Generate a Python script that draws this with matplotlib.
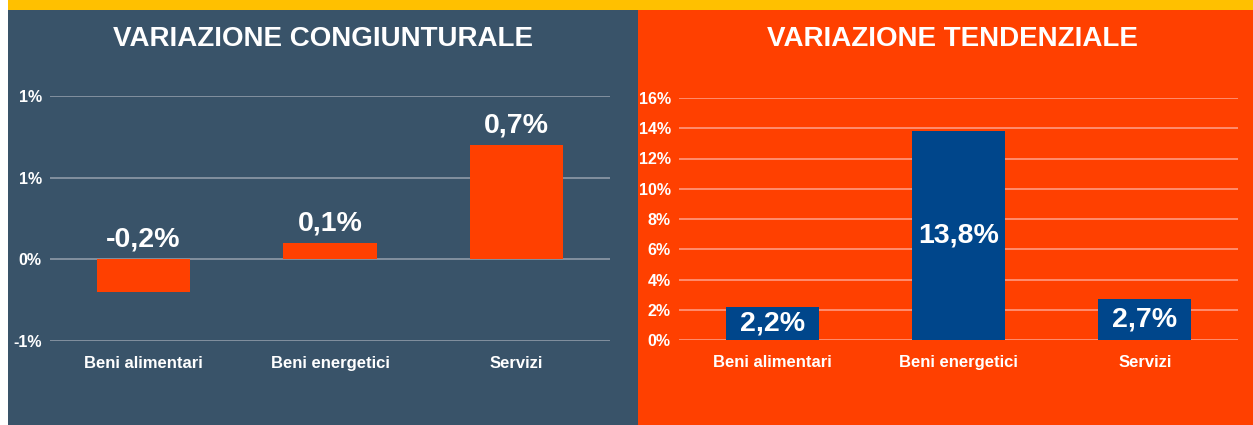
import matplotlib.pyplot as plt
from matplotlib.patches import Rectangle

plt.rcParams['font.family'] = ['Liberation Sans', 'DejaVu Sans']

categories = ['Beni alimentari', 'Beni energetici', 'Servizi']
cong_values = [-0.2, 0.1, 0.7]
cong_labels = ['-0,2%', '0,1%', '0,7%']
cong_ticks = [-0.5, 0.0, 0.5, 1.0]
cong_ticklabels = ['-1%', '0%', '1%', '1%']
tend_values = [2.2, 13.8, 2.7]
tend_labels = ['2,2%', '13,8%', '2,7%']
tend_ticks = [0, 2, 4, 6, 8, 10, 12, 14, 16]

slate = '#395369'
orange = '#FF4000'
blue = '#00468B'
gold = '#FFC000'

W, H = 1253, 425
fig = plt.figure(figsize=(W / 100, H / 100), dpi=100)
fig.patch.set_facecolor('white')

# background panels + top strip
fig.add_artist(Rectangle((8 / W, 0), (638 - 8) / W, 1, transform=fig.transFigure,
                         facecolor=slate, edgecolor='none', zorder=0))
fig.add_artist(Rectangle((638 / W, 0), (W - 638) / W, 1, transform=fig.transFigure,
                         facecolor=orange, edgecolor='none', zorder=0))
fig.add_artist(Rectangle((8 / W, 1 - 10 / H), (W - 8) / W, 10 / H, transform=fig.transFigure,
                         facecolor=gold, edgecolor='none', zorder=1))

fig.text(323 / W, 1 - 39 / H, 'VARIAZIONE CONGIUNTURALE', ha='center', va='center',
         color='white', fontsize=20, fontweight='bold')
fig.text(952 / W, 1 - 39 / H, 'VARIAZIONE TENDENZIALE', ha='center', va='center',
         color='white', fontsize=20, fontweight='bold')


def make_ax(x0, x1, ytop, ybot):
    ax = fig.add_axes([x0 / W, 1 - ybot / H, (x1 - x0) / W, (ybot - ytop) / H])
    ax.set_facecolor('none')
    for s in ax.spines.values():
        s.set_visible(False)
    ax.tick_params(length=0, colors='white', labelsize=11.5)
    ax.tick_params(axis='y', pad=6)
    ax.tick_params(axis='x', pad=11, labelsize=12)
    return ax


x = list(range(len(categories)))

# left panel
ax1 = make_ax(50, 610, 96, 341)
ax1.set_ylim(-0.5, 1.0)
ax1.set_xlim(-0.5, 2.5)
ax1.set_yticks(cong_ticks)
ax1.set_yticklabels(cong_ticklabels, fontweight='bold')
ax1.set_xticks(x)
ax1.set_xticklabels(categories, fontweight='bold')
ax1.grid(axis='y', color='#8f9ba8', linewidth=1.2)
ax1.set_axisbelow(True)
ax1.bar(x, cong_values, width=0.5, color=orange, zorder=3)
for xi, v, t in zip(x, cong_values, cong_labels):
    ax1.annotate(t, (xi, max(v, 0)), xytext=(0, 5), textcoords='offset points',
                 ha='center', va='bottom', color='white', fontsize=20.5, fontweight='bold')

# right panel
ax2 = make_ax(679, 1238, 98, 340)
ax2.set_ylim(0, 16)
ax2.set_xlim(-0.5, 2.5)
ax2.set_yticks(tend_ticks)
ax2.set_yticklabels(['%d%%' % t for t in tend_ticks], fontweight='bold')
ax2.set_xticks(x)
ax2.set_xticklabels(categories, fontweight='bold')
ax2.grid(axis='y', color='#ff9a80', linewidth=1.2)
ax2.set_axisbelow(True)
ax2.bar(x, tend_values, width=0.5, color=blue, zorder=3)
for xi, v, t in zip(x, tend_values, tend_labels):
    ax2.text(xi, v / 2, t, ha='center', va='center', color='white',
             fontsize=20.5, fontweight='bold', zorder=4)

fig.savefig('out.png', dpi=100)
